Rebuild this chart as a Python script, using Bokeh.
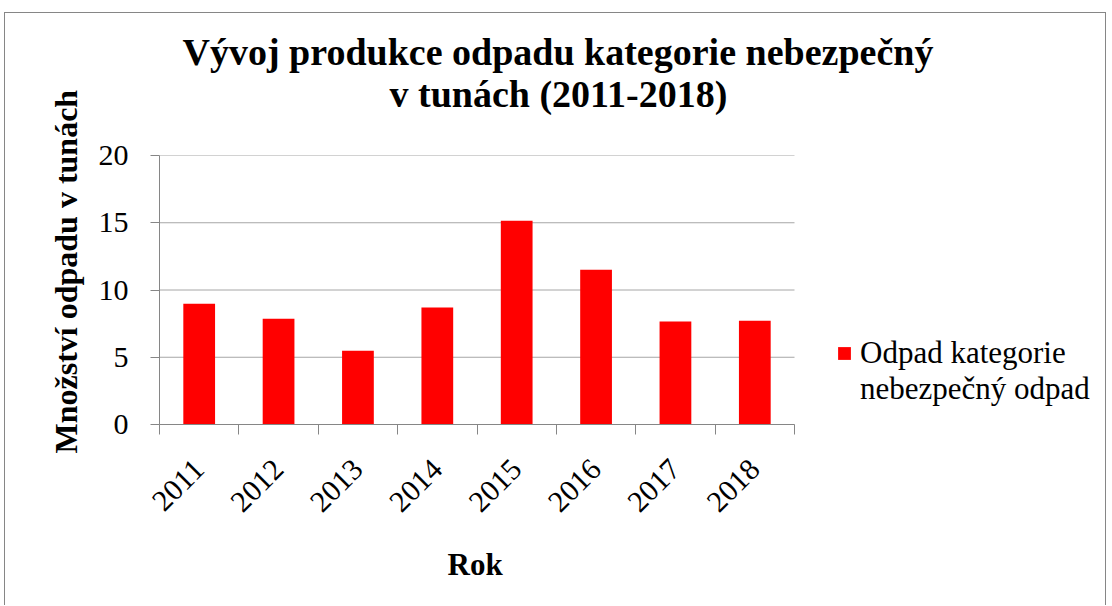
import math
from bokeh.plotting import figure
from bokeh.models import Range1d, FixedTicker, Legend, LegendItem, ColumnDataSource, Title
from bokeh.embed import file_html
from bokeh.resources import INLINE

# ---- data ----
years = ["2011", "2012", "2013", "2014", "2015", "2016", "2017", "2018"]
amounts = [8.98, 7.87, 5.49, 8.69, 15.14, 11.51, 7.65, 7.72]
y_ticks = [0, 5, 10, 15, 20]
title_lines = ["Vývoj produkce odpadu kategorie nebezpečný", "v tunách (2011-2018)"]
series_lines = ["Odpad kategorie", "nebezpečný odpad"]
x_title = "Rok"
y_title = "Množství odpadu v tunách"

FONT = "Liberation Serif"
AXIS_COLOR = "#868686"
GRID_COLOR = "#a6a6a6"
W, H = 1102, 593
FL, FR, FT, FB = 154, 7, 142, 181
PX_PLOT = 635      # pixel width of the bar area
PX_FRAME = W - FL - FR   # frame also hosts the legend on the right

n = len(years)
x_end = n * PX_FRAME / PX_PLOT

centers = [i + 0.5 for i in range(n)]
src = ColumnDataSource(dict(x=centers, top=amounts, year=years))

p = figure(width=W, height=H, output_backend="svg", toolbar_location=None,
           x_range=Range1d(0, x_end), y_range=Range1d(0, 20),
           min_border_left=FL, min_border_right=FR, min_border_top=FT, min_border_bottom=FB)
p.styles = {"border-left": "1px solid #868686", "border-top": "1px solid #868686",
            "border-right": "1px solid #868686",
            "margin-left": "4px", "margin-top": "12px"}
p.outline_line_color = None

# title: stacked outward from the frame (spacer, second line, first line)
p.add_layout(Title(text=" ", text_font=FONT, text_font_size="20px", standoff=15), "above")
p.add_layout(Title(text=title_lines[1], align="left", offset=230, vertical_align="top",
                   standoff=0, text_font=FONT, text_font_size="38px",
                   text_font_style="bold", text_color="black"), "above")
p.add_layout(Title(text=title_lines[0], align="left", offset=23, vertical_align="bottom",
                   standoff=0, text_font=FONT, text_font_size="38px",
                   text_font_style="bold", text_color="black"), "above")

# horizontal gridlines limited to the bar area
p.segment(x0=[0] * len(y_ticks), x1=[n] * len(y_ticks), y0=y_ticks, y1=y_ticks,
          line_color=GRID_COLOR, line_width=1, level="underlay")

r = p.vbar(x="x", top="top", width=0.4, source=src, fill_color="#ff0000", line_color=None)

# x axis: labels at category centres, tick marks at category boundaries
p.xaxis.bounds = (0, n)
p.xaxis.ticker = FixedTicker(ticks=centers, minor_ticks=list(range(n + 1)))
p.xaxis.major_label_overrides = {c: y for c, y in zip(centers, years)}
p.xaxis.major_tick_in = 0
p.xaxis.major_tick_out = 0
p.xaxis.minor_tick_in = 0
p.xaxis.minor_tick_out = 10
p.xaxis.minor_tick_line_color = AXIS_COLOR
p.xaxis.major_label_orientation = math.pi / 4
p.xaxis.major_label_standoff = 30

# y axis
p.yaxis.ticker = FixedTicker(ticks=y_ticks)
p.yaxis.major_tick_in = 0
p.yaxis.major_tick_out = 9
p.yaxis.minor_tick_line_color = None
p.yaxis.major_label_standoff = 22

for ax in (p.xaxis, p.yaxis):
    ax.axis_line_color = AXIS_COLOR
    ax.major_tick_line_color = AXIS_COLOR
    ax.major_label_text_font = FONT
    ax.major_label_text_font_size = "30px"
    ax.major_label_text_color = "black"

# axis titles (placed relative to the bar area, not the whole frame)
p.add_layout(Title(text=x_title, align="left", offset=288, vertical_align="top",
                   standoff=46, text_font=FONT, text_font_size="31px",
                   text_font_style="bold", text_color="black"), "below")
p.add_layout(Title(text=y_title, align="left", offset=-29, vertical_align="bottom",
                   standoff=24, text_font=FONT, text_font_size="32px",
                   text_font_style="bold", text_color="black"), "left")

p.xgrid.grid_line_color = None
p.ygrid.grid_line_color = None

legend = Legend(items=[LegendItem(label=series_lines[0], renderers=[r]),
                       LegendItem(label=series_lines[1], renderers=[])],
                location=(PX_PLOT + 42, 17),
                label_text_font=FONT, label_text_font_size="31px", label_text_color="black",
                glyph_width=16, glyph_height=16, padding=0, margin=0, spacing=0,
                label_standoff=8, border_line_color=None, background_fill_alpha=0)
p.add_layout(legend)

open("out.html", "w").write(file_html(p, INLINE))
